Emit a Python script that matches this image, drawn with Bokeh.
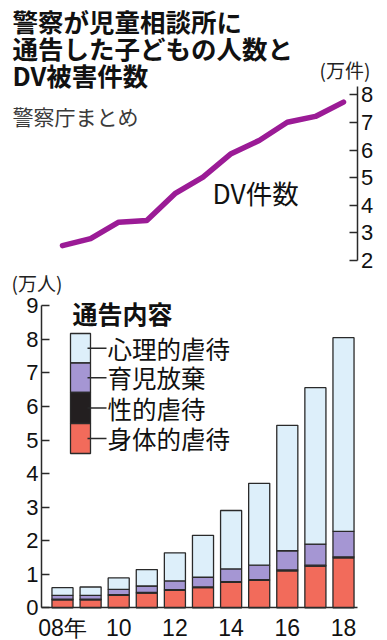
from bokeh.plotting import figure
from bokeh.models import Range1d, LinearAxis, FixedTicker, Label, BoxAnnotation, Arrow
from bokeh.embed import file_html
from bokeh.resources import INLINE

# ---------------- data ----------------
years = ["08", "09", "10", "11", "12", "13", "14", "15", "16", "17", "18"]
tick_labels = {0: "08年", 2: "10", 4: "12", 6: "14", 8: "16", 10: "18"}
# DV cases (万件)
dv_cases = [2.54, 2.79, 3.39, 3.45, 4.42, 5.02, 5.87, 6.35, 7.01, 7.22, 7.74]
# children reported to child guidance centres (万人), by type
physical = [0.24, 0.24, 0.37, 0.44, 0.52, 0.60, 0.76, 0.82, 1.10, 1.24, 1.49]
sexual = [0.02, 0.02, 0.02, 0.02, 0.02, 0.02, 0.02, 0.02, 0.03, 0.03, 0.03]
neglect = [0.11, 0.11, 0.16, 0.19, 0.26, 0.29, 0.38, 0.43, 0.57, 0.63, 0.76]
psychological = [0.23, 0.25, 0.34, 0.49, 0.84, 1.25, 1.74, 2.44, 3.74, 4.66, 5.77]
stack_names = ["身体的虐待", "性的虐待", "育児放棄", "心理的虐待"]
legend_order = ["心理的虐待", "育児放棄", "性的虐待", "身体的虐待"]

# ---------------- style ----------------
COLORS = {"身体的虐待": "#F26B5B", "性的虐待": "#231F20",
          "育児放棄": "#A596D3", "心理的虐待": "#DDEFFA"}
LINE_COLOR = "#9B1B96"
INK = "#2a2a2a"
NUM_FONT = "'Liberation Sans Narrow', 'Liberation Sans', sans-serif"
JP_FONT = "Noto Sans CJK JP"

# layout in canvas pixels (frame = whole canvas)
W, H = 387, 640
X0_PX, PX_PER_YEAR = 62, 28.1        # centre of first bar, spacing
LEFT_AXIS_PX, RIGHT_AXIS_PX = 41, 356.5
BASE_PX, PX_PER_MAN = 607.3, 33.55    # bars: zero line, px per 1万人
DV2_PX, PX_PER_DV = 260, 27.6         # DV: position of 2万件, px per 1万件


def x_at(px):
    return (px - X0_PX) / PX_PER_YEAR


x_start, x_end = x_at(0), x_at(W)
bar_start = -(H - BASE_PX) / PX_PER_MAN
bar_end = BASE_PX / PX_PER_MAN
dv_start = 2 - (H - DV2_PX) / PX_PER_DV
dv_end = 2 + DV2_PX / PX_PER_DV

x = list(range(len(years)))
data = {"x": x, "身体的虐待": physical, "性的虐待": sexual,
        "育児放棄": neglect, "心理的虐待": psychological, "dv": dv_cases}

p = figure(width=W, height=H, output_backend="svg", toolbar_location=None,
           x_range=Range1d(x_start, x_end), y_range=Range1d(bar_start, bar_end),
           min_border=0)
p.extra_y_ranges = {"dv": Range1d(dv_start, dv_end)}
p.outline_line_color = None
p.xgrid.visible = False
p.ygrid.visible = False
p.background_fill_color = "white"
p.border_fill_color = "white"

# stacked bars
p.vbar_stack(stack_names, x="x", width=0.75, source=data,
             fill_color=[COLORS[n] for n in stack_names],
             line_color=INK, line_width=1.3)

# DV line
p.line("x", "dv", source=data, y_range_name="dv", line_color=LINE_COLOR,
       line_width=5.5, line_cap="round", line_join="round")

# axes
xa = p.xaxis[0]
xa.fixed_location = 0
xa.bounds = (x_at(LEFT_AXIS_PX), x_at(RIGHT_AXIS_PX))
xa.ticker = FixedTicker(ticks=sorted(tick_labels))
xa.major_label_overrides = tick_labels
xa.major_tick_line_color = None
xa.minor_tick_line_color = None
xa.axis_line_color = INK
xa.axis_line_width = 1.5
xa.major_label_text_font = NUM_FONT
xa.major_label_text_font_size = "23px"
xa.major_label_text_color = "#111111"
xa.major_label_standoff = 1

ya = p.yaxis[0]
ya.fixed_location = x_at(LEFT_AXIS_PX)
ya.bounds = (0, 9)
ya.ticker = FixedTicker(ticks=list(range(10)))
ya.major_tick_in = 8
ya.major_tick_out = 0
ya.minor_tick_line_color = None
ya.axis_line_color = INK
ya.major_tick_line_color = INK
ya.axis_line_width = 1.5
ya.major_tick_line_width = 1.5
ya.major_label_text_font = NUM_FONT
ya.major_label_text_font_size = "22px"
ya.major_label_text_color = "#111111"
ya.major_label_standoff = 3

ra = LinearAxis(y_range_name="dv", bounds=(2, 8.3),
                ticker=FixedTicker(ticks=[2, 3, 4, 5, 6, 7, 8]))
ra.fixed_location = x_at(RIGHT_AXIS_PX)
ra.major_tick_in = 8
ra.major_tick_out = 0
ra.minor_tick_line_color = None
ra.axis_line_color = INK
ra.major_tick_line_color = INK
ra.axis_line_width = 1.5
ra.major_tick_line_width = 1.5
ra.major_label_text_font = NUM_FONT
ra.major_label_text_font_size = "22px"
ra.major_label_text_color = "#111111"
ra.major_label_standoff = 4
p.add_layout(ra, "right")


def label(text, rx, ry, size, bold=False, color="#111111", font=JP_FONT):
    p.add_layout(Label(x=rx, y=H - ry, x_units="screen", y_units="screen",
                       text=text, text_font=font, text_font_size=size,
                       text_font_style="bold" if bold else "normal",
                       text_color=color, text_align="left",
                       text_baseline="middle"))


# titles
label("警察が児童相談所に", 12, 20, "25.5px", bold=True)
label("通告した子どもの人数と", 12, 47, "25.5px", bold=True)
label("DV被害件数", 12, 73.5, "25.5px", bold=True)
label("警察庁まとめ", 12, 115, "21px", color="#3a3a3a")
label("(万件)", 319, 69, "19px", color="#222222")
label("DV件数", 212, 192, "26.5px")
label("(万人)", 11, 282, "19px", color="#222222")
label("通告内容", 72, 312, "25px", bold=True)

# legend
box_edges = [333, 362.5, 392, 423, 453]
for i, name in enumerate(legend_order):
    top, bot = box_edges[i], box_edges[i + 1]
    p.add_layout(BoxAnnotation(left=70, right=90, top=H - top, bottom=H - bot,
                               left_units="screen", right_units="screen",
                               top_units="screen", bottom_units="screen",
                               fill_color=COLORS[name], fill_alpha=1,
                               line_color=INK, line_width=1.3, line_alpha=1))
    cy = (top + bot) / 2
    p.add_layout(Arrow(end=None, x_start=87, y_start=H - cy, x_end=106, y_end=H - cy,
                       start_units="screen", end_units="screen",
                       line_color=INK, line_width=1.5))
    label(name, 107, cy, "24.5px")

open("out.html", "w").write(file_html(p, INLINE))
